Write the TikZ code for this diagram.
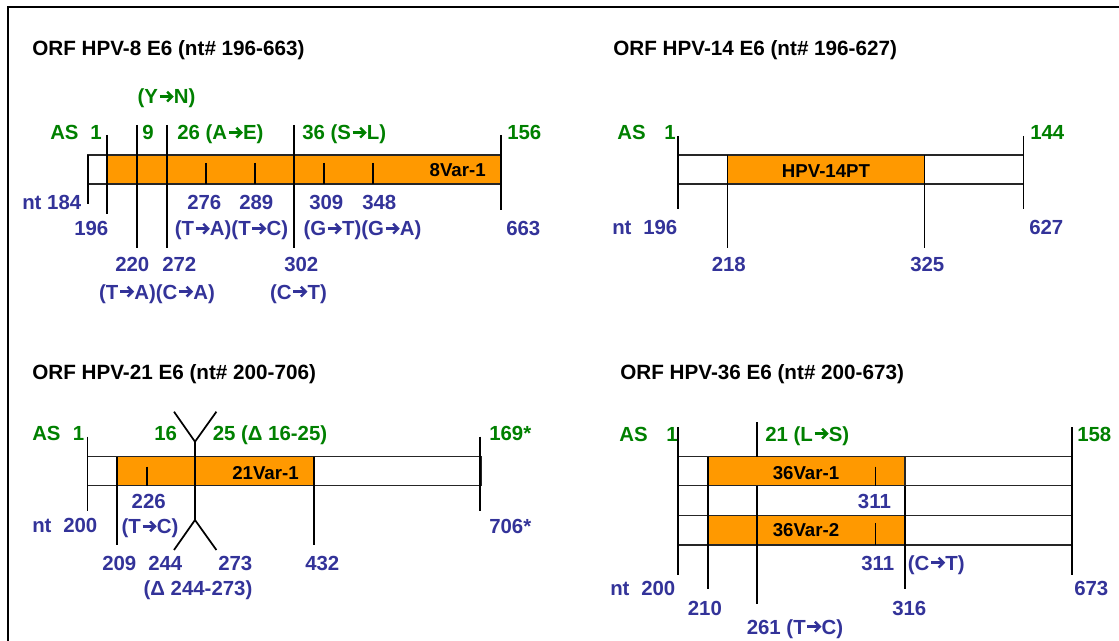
\documentclass[tikz,border=0pt]{standalone}
\usepackage{fontspec}
\setmainfont{Liberation Sans}
\definecolor{agreen}{RGB}{0,128,0}
\definecolor{ablue}{RGB}{51,51,153}
\definecolor{aorange}{RGB}{255,153,0}
\newcommand{\myar}{\kern0.02em\tikz[baseline=0pt]{%
  \draw[draw=.,line width=0.12em,line cap=butt] (0em,0.36em) -- (0.58em,0.36em);
  \draw[draw=.,line width=0.12em,line join=miter,line cap=butt] (0.37em,0.6em) -- (0.61em,0.36em) -- (0.37em,0.12em);}\kern0.03em}
\begin{document}
\begin{tikzpicture}[x=0.75pt,y=-0.75pt,
  txt/.style={inner sep=0pt,anchor=base west,font=\bfseries\fontsize{15.3}{18}\selectfont},
  txtc/.style={txt,anchor=base},
  ttl/.style={txt,text=black,font=\bfseries\fontsize{15.5}{18}\selectfont},
  grn/.style={text=agreen},
  blu/.style={text=ablue},
  barlab/.style={inner sep=0pt,font=\bfseries\fontsize{14}{16}\selectfont,text=black},
  ln/.style={line width=1pt,draw=black},
  bar/.style={line width=1.1pt,draw=black!85},
  ybar/.style={bar,fill=aorange},
  wbar/.style={bar,fill=white},
  yline/.style={line width=1.3pt,draw=black}]
\useasboundingbox (0,0) rectangle (1119,641);
% frame
\draw[line width=1.2pt] (8,641) -- (8,7) -- (1119,7);

% ================= Panel 1: HPV-8 =================
\node[ttl] (t1) at (32,56) {ORF HPV-8 E6 (nt\# 196-663)};
\draw[wbar] (88,155) rectangle (107,184);
\draw[ybar] (107,155) rectangle (501,184);
\draw[ln] (107,135) -- (107,214);
\draw[ln] (137,125) -- (137,248);
\draw[ln] (167,125) -- (167,248);
\draw[ln] (294,125) -- (294,248);
\draw[ln] (501,135) -- (501,210);
\draw[ln] (88,155) -- (88,204);
\foreach \xx in {206,255,324,373} \draw[ln] (\xx,163) -- (\xx,184);
\node[barlab,anchor=base east] (v81) at (486,177) {8Var-1};
\node[txtc,grn] (a1yn) at (166.5,104) {(Y\myar N)};
\node[txt,grn] (a1as) at (50,140) {AS};
\node[txt,grn] (a1one) at (90,140) {1};
\node[txt,grn] (a1n9) at (142,140) {9};
\node[txt,grn] (a1n26) at (177,140) {26 (A\myar E)};
\node[txt,grn] (a1n36) at (302,140) {36 (S\myar L)};
\node[txt,grn] (a1n156) at (507,140) {156};
\node[txt,blu] (b1nt) at (22,210) {nt 184};
\node[txt,blu] (b1a) at (74,236) {196};
\node[txt,blu] (b1b) at (187,210) {276};
\node[txt,blu] (b1c) at (239,210) {289};
\node[txtc,blu] (b1d) at (231.5,236) {(T\myar A)(T\myar C)};
\node[txt,blu] (b1e) at (309,210) {309};
\node[txt,blu] (b1f) at (362,210) {348};
\node[txtc,blu] (b1g) at (362.5,236) {(G\myar T)(G\myar A)};
\node[txt,blu] (b1h) at (506,236) {663};
\node[txt,blu] (b1i) at (115,272) {220};
\node[txt,blu] (b1j) at (162,272) {272};
\node[txtc,blu] (b1k) at (157,299) {(T\myar A)(C\myar A)};
\node[txt,blu] (b1l) at (284,272) {302};
\node[txtc,blu] (b1m) at (298.5,299) {(C\myar T)};

% ================= Panel 2: HPV-14 =================
\node[ttl] (t2) at (613,56) {ORF HPV-14 E6 (nt\# 196-627)};
\draw[wbar] (678,155) rectangle (1023.5,184);
\draw[ybar] (727.5,155) rectangle (924.7,184);
\draw[ln] (678,136) -- (678,209);
\draw[ln] (727.5,155) -- (727.5,248);
\draw[ln] (924.7,155) -- (924.7,248);
\draw[ln] (1023.5,136) -- (1023.5,209);
\node[barlab] (v14) at (826,171) {HPV-14PT};
\node[txt,grn] (a2as) at (617,140) {AS};
\node[txt,grn] (a2one) at (664,140) {1};
\node[txt,grn] (a2end) at (1030,140) {144};
\node[txt,blu] (b2nt) at (612,235) {nt};
\node[txt,blu] (b2a) at (643,235) {196};
\node[txt,blu] (b2b) at (1029,235) {627};
\node[txt,blu] (b2c) at (711.5,272) {218};
\node[txt,blu] (b2d) at (910,272) {325};

% ================= Panel 3: HPV-21 =================
\node[ttl] (t3) at (32,379) {ORF HPV-21 E6 (nt\# 200-706)};
\draw[wbar] (87.5,456.7) rectangle (481,485.7);
\draw[ybar] (117,456.7) rectangle (314,485.7);
\draw[ln] (87.5,436.7) -- (87.5,510.7);
\draw[ln] (117,456.7) -- (117,545);
\draw[ln] (147,466.7) -- (147,485.7);
\draw[ln] (314,456.7) -- (314,545);
\draw[ln] (480,436.7) -- (480,511);
\coordinate (yt) at (195,441.7);
\coordinate (yb) at (195,520);
\coordinate (ytl) at (174,411.7);
\coordinate (ytr) at (216.4,411.7);
\coordinate (ybl) at (174,550);
\coordinate (ybr) at (216.4,550);
\draw[yline] (ytl) -- (yt) -- (ytr);
\draw[yline] (yt) -- (yb);
\draw[yline] (ybl) -- (yb) -- (ybr);
\node[barlab,anchor=base east] (v21) at (299,479) {21Var-1};
\node[txt,grn] (a3as) at (32,440) {AS};
\node[txt,grn] (a3one) at (72.5,440) {1};
\node[txt,grn] (a3n16) at (154,440) {16};
\node[txt,grn] (a3n25) at (212.5,440) {25 (Δ 16-25)};
\node[txt,grn] (a3end) at (489,440) {169*};
\node[txt,blu] (b3a) at (131.4,508.7) {226};
\node[txtc,blu] (b3b) at (150,533.7) {(T\myar C)};
\node[txt,blu] (b3nt) at (32,532.7) {nt};
\node[txt,blu] (b3c) at (63,532.7) {200};
\node[txt,blu] (b3d) at (489,533) {706*};
\node[txt,blu] (b3e) at (102,570) {209};
\node[txt,blu] (b3f) at (148,570) {244};
\node[txt,blu] (b3g) at (218,570) {273};
\node[txt,blu] (b3h) at (305,570) {432};
\node[txtc,blu] (b3i) at (198,595) {(Δ 244-273)};

% ================= Panel 4: HPV-36 =================
\node[ttl] (t4) at (620,379) {ORF HPV-36 E6 (nt\# 200-673)};
\draw[wbar] (678,456.7) rectangle (1072,485.7);
\draw[wbar] (678,485.7) rectangle (1072,515.3);
\draw[wbar] (678,515.3) rectangle (1072,545);
\draw[ybar] (708,456.7) rectangle (905,485.7);
\draw[ybar] (708,515.3) rectangle (905,545);
\draw[ln] (875.5,466.7) -- (875.5,485.7);
\draw[ln] (875.5,523) -- (875.5,545);
\draw[ln] (678,427) -- (678,575);
\draw[ln] (708,456.7) -- (708,589);
\draw[ln] (757,422) -- (757,456.7);
\draw[ln] (757,485.7) -- (757,604);
\draw[ln] (905,485.7) -- (905,589);
\draw[ln] (1072,427) -- (1072,575);
\node[barlab] (v361) at (806,472.7) {36Var-1};
\node[barlab] (v362) at (806,530) {36Var-2};
\node[txt,grn] (a4as) at (619,441) {AS};
\node[txt,grn] (a4one) at (666,441) {1};
\node[txt,grn] (a4n21) at (765,441) {21 (L\myar S)};
\node[txt,grn] (a4end) at (1077,441) {158};
\node[txt,blu] (b4a) at (857.7,508) {311};
\node[txt,blu] (b4b) at (861,570) {311};
\node[txt,blu] (b4c) at (907.6,570) {(C\myar T)};
\node[txt,blu] (b4nt) at (610,595) {nt};
\node[txt,blu] (b4d) at (641,595) {200};
\node[txt,blu] (b4e) at (1074,595) {673};
\node[txt,blu] (b4f) at (687.6,615) {210};
\node[txt,blu] (b4g) at (892,615) {316};
\node[txt,blu] (b4h) at (746.5,634) {261 (T\myar C)};
\end{tikzpicture}
\end{document}
